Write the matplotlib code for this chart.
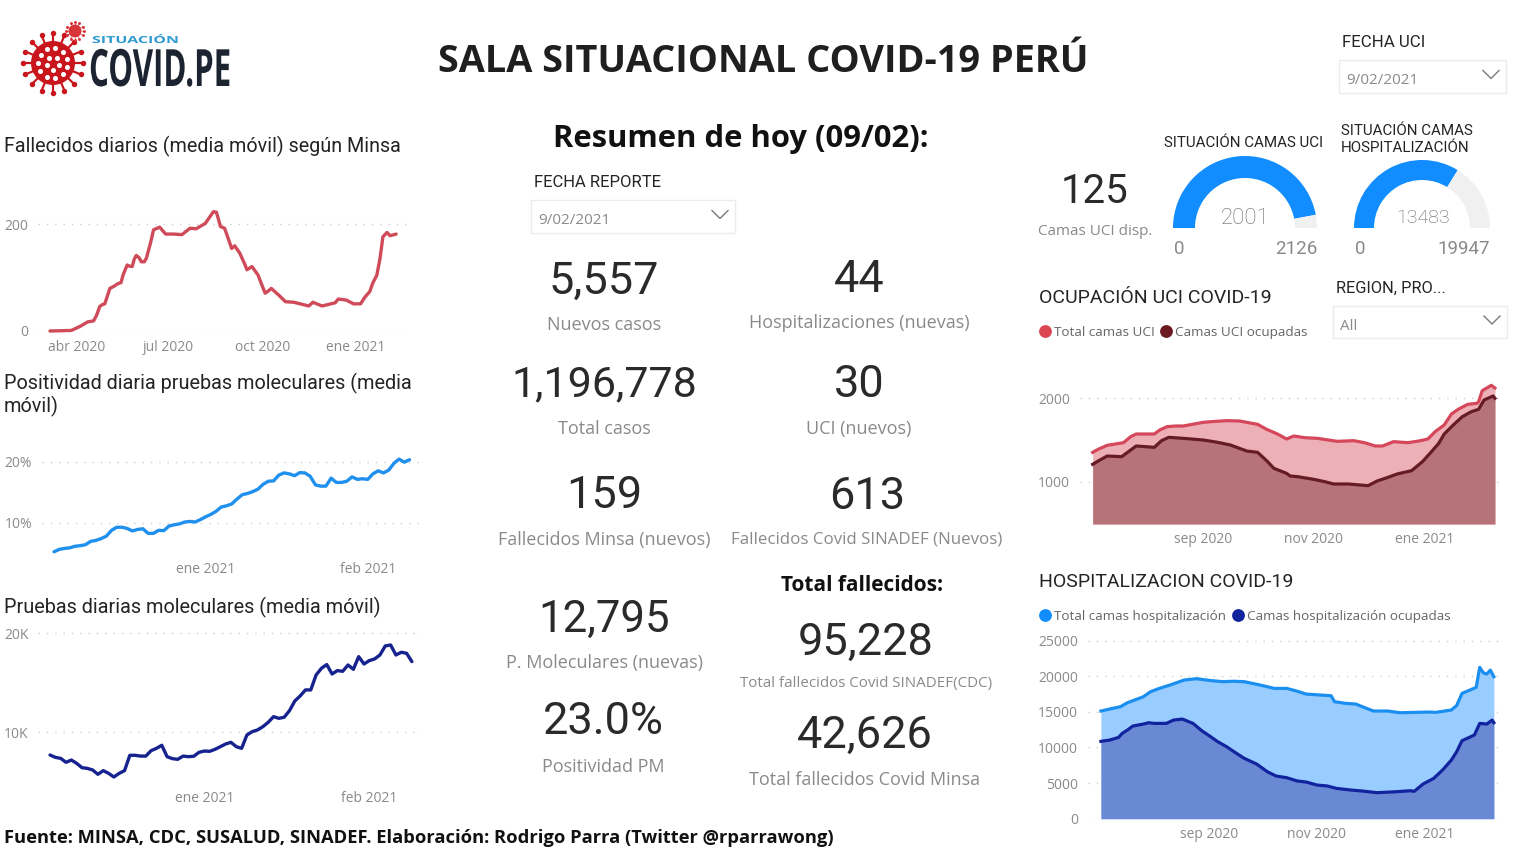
# -*- coding: utf-8 -*-
"""
Sala situacional COVID-19 Peru, 09/02/2021

"""
import numpy as np
import matplotlib.pyplot as plt
import matplotlib.patheffects as pe
from matplotlib.patches import Circle, Rectangle
from matplotlib.transforms import Affine2D

W, H = 1526, 850
GRIS = "#8a8a8a"
OSCURO = "#252423"

# days counted from the first point of each series
fallecidos_dias = [0, 21, 30, 37, 43, 46, 49, 52, 54, 59, 64, 66, 70, 72, 76, 78, 81, 83, 85, 88,
                   90, 93, 95, 99, 102, 108, 114, 122, 130, 138, 144, 153, 161, 164, 168, 172, 179,
                   182, 187, 192, 194, 199, 205, 209, 212, 215, 218, 225, 232, 240, 255, 259, 268,
                   281, 284, 292, 299, 306, 310, 315, 318, 322, 325, 328, 332, 335, 341]
fallecidos = [0, 1, 9, 17, 19, 30, 46, 50, 51, 80, 85, 88, 91, 105, 124, 122, 121, 135, 142, 137,
              130, 130, 137, 165, 190, 195, 182, 182, 181, 193, 192, 202, 224, 223, 196, 193, 155,
              160, 146, 125, 115, 121, 105, 85, 71, 75, 80, 68, 55, 54, 47, 54, 47,
              53, 60, 58, 51, 51, 63, 74, 90, 105, 135, 177, 185, 179, 182]
fallecidos_ticks = [26, 117, 209, 301]
fallecidos_labels = ["abr 2020", "jul 2020", "oct 2020", "ene 2021"]

positividad = [5.3, 5.7, 5.85, 5.95, 6.2, 6.3, 6.45, 7.0, 7.15, 7.45, 7.85, 8.8, 9.3, 9.3, 9.1,
               8.7, 8.95, 9.05, 8.3, 8.3, 8.8, 8.75, 9.5, 9.7, 9.85, 10.15, 10.25, 10.15, 10.55,
               11.0, 11.4, 11.9, 12.6, 12.8, 13.1, 13.9, 14.6, 14.8, 15.1, 15.5, 16.3, 16.8,
               16.85, 17.8, 18.15, 18.0, 17.7, 18.2, 18.15, 17.6, 16.2, 16.0, 16.0, 17.3, 16.6,
               16.6, 16.8, 17.5, 17.1, 17.2, 17.1, 18.0, 18.5, 18.15, 18.6, 19.7, 20.4, 19.9, 20.3]
pruebas = [7.71, 7.47, 7.37, 6.97, 7.2, 6.87, 6.43, 6.36, 6.2, 5.76, 6.13, 5.86, 5.49, 5.86, 6.13,
           7.68, 7.68, 7.6, 7.6, 8.15, 8.38, 8.69, 7.54, 7.34, 7.27, 7.6, 7.54, 7.58, 7.98, 8.11,
           8.08, 8.28, 8.55, 8.82, 8.99, 8.55, 8.38, 9.73, 10.07, 10.24, 10.57, 11.01, 11.58, 11.41,
           11.52, 12.19, 13.16, 13.67, 14.28, 14.28, 15.79, 16.46, 16.84, 15.89, 16.23, 16.16, 16.8,
           16.36, 17.64, 16.9, 17.24, 17.41, 17.81, 18.72, 18.82, 17.81, 18.08, 17.98, 17.14]
corto_ticks = [29, 60]
corto_labels = ["ene 2021", "feb 2021"]

uci_total_dias = [0, 3, 8, 17, 21, 24, 34, 37, 41, 46, 50, 56, 61, 68, 74, 81, 85, 91, 96, 102,
                  107, 111, 117, 124, 130, 135, 144, 150, 156, 160, 166, 174, 180, 185, 189, 194,
                  198, 202, 207, 212, 213, 215, 220, 222]
uci_total = [1352, 1388, 1436, 1468, 1540, 1572, 1572, 1620, 1660, 1668, 1668, 1692, 1712, 1724,
             1732, 1728, 1712, 1688, 1628, 1572, 1512, 1548, 1528, 1520, 1500, 1484, 1492, 1468,
             1428, 1428, 1480, 1468, 1488, 1512, 1600, 1680, 1812, 1872, 1928, 1940, 1960, 2092,
             2156, 2124]
uci_ocupadas_dias = [0, 4, 8, 16, 21, 24, 34, 38, 42, 50, 61, 69, 76, 85, 91, 96, 100, 107, 109,
                     113, 122, 128, 133, 141, 152, 157, 163, 168, 176, 182, 187, 191, 194, 199,
                     204, 209, 213, 216, 221, 222]
uci_ocupadas = [1208, 1260, 1308, 1300, 1380, 1428, 1412, 1492, 1532, 1520, 1500, 1472, 1440, 1368,
                1352, 1252, 1160, 1100, 1068, 1060, 1028, 1000, 972, 972, 952, 1008, 1052, 1092,
                1132, 1240, 1360, 1460, 1572, 1680, 1780, 1840, 1868, 1980, 2028, 2000]

hosp_total_dias = [0, 5, 11, 15, 24, 28, 33, 39, 47, 54, 62, 69, 75, 81, 90, 98, 105, 111, 116, 122,
                   130, 132, 138, 144, 149, 154, 162, 169, 186, 189, 198, 201, 204, 212, 214, 216,
                   218, 220, 222]
hosp_total = [15120, 15400, 15730, 16290, 17130, 17830, 18300, 18770, 19470, 19660, 19400, 19240,
              19300, 19240, 18770, 18300, 18300, 17900, 17500, 17400, 17270, 16430, 16200, 16100,
              15600, 15120, 15120, 14880, 14980, 14930, 15260, 15900, 17600, 18440, 21250, 20500,
              20310, 20870, 19940]
hosp_ocupadas_dias = [0, 5, 10, 12, 15, 18, 24, 27, 30, 37, 41, 46, 52, 57, 62, 66, 71, 76, 81, 88,
                      94, 99, 105, 111, 116, 122, 128, 133, 141, 148, 156, 167, 175, 177, 182, 188,
                      193, 198, 201, 204, 211, 214, 218, 221, 222]
hosp_ocupadas = [10860, 11045, 11420, 11980, 12450, 13010, 13290, 13480, 13385, 13385, 13850, 13990,
                 13385, 12355, 11510, 10810, 10110, 9270, 8470, 7675, 6600, 5990, 5755, 5290, 5150,
                 4730, 4590, 4260, 4030, 3880, 3650, 3790, 3930, 3840, 4870, 5660, 6830, 8240, 9410,
                 10950, 11750, 13385, 13290, 13850, 13480]
largo_ticks = [61, 122, 183]
largo_labels = ["sep 2020", "nov 2020", "ene 2021"]

gauge_uci = [2001, 125]  # ocupadas, libres
gauge_hosp = [13483, 6464]


class Stretch(pe.AbstractPathEffect):  # the logo lettering is condensed or spaced out
    def __init__(self, sx):
        super().__init__()
        self.sx = sx

    def draw_path(self, renderer, gc, tpath, affine, rgbFace=None):
        renderer.draw_path(gc, tpath, Affine2D().scale(self.sx, 1) + affine, rgbFace)


def px_axes(left, top, right, bottom):  # axes from pixel edges
    ax = fig.add_axes([left/W, 1-bottom/H, (right-left)/W, (bottom-top)/H])
    ax.patch.set_alpha(0)
    for spine in ax.spines.values():
        spine.set_visible(False)
    return ax


def style_axis(ax, xlim, ylim, xticks, xlabels, yticks, ylabels, xpad):
    ax.set_xlim(xlim)
    ax.set_ylim(ylim)
    ax.set_xticks(xticks, xlabels)
    ax.set_yticks(yticks, ylabels)
    ax.tick_params(length=0, labelsize=10, labelcolor=GRIS, pad=7)
    ax.tick_params(axis="x", pad=xpad)
    for label in ax.get_xticklabels() + ax.get_yticklabels():
        label.set_fontfamily("Open Sans")
    ax.grid(axis="y", linestyle=(0, (1, 5)), color="#cfcfcf", linewidth=1)
    ax.set_axisbelow(True)


def line_chart(pos, x, y, color, xlim, ylim, xticks, xlabels, yticks, ylabels, xpad):
    ax = px_axes(*pos)
    ax.plot(x, y, color=color, linewidth=2.4, solid_capstyle="round", clip_on=False)
    style_axis(ax, xlim, ylim, xticks, xlabels, yticks, ylabels, xpad)
    return ax


def area_chart(pos, x1, y1, x2, y2, col1, col2, fill1, fill2, xlim, ylim, yticks, ylabels, xpad):
    ax = px_axes(*pos)
    ax.fill_between(x1, y1, ylim[0], color=fill1, linewidth=0)
    ax.fill_between(x2, y2, ylim[0], color=fill2, linewidth=0)
    ax.plot(x1, y1, color=col1, linewidth=2.3)
    ax.plot(x2, y2, color=col2, linewidth=2.3)
    style_axis(ax, xlim, ylim, largo_ticks, largo_labels, yticks, ylabels, xpad)
    return ax


def gauge(cx, cy, r, width, values):
    ax = px_axes(cx-r, cy-r, cx+r, cy+r)
    ax.pie(values + [sum(values)], startangle=180, counterclock=False, radius=1,
           colors=["#118dff", "#f0f0f0", "none"], wedgeprops={"width": width/r, "linewidth": 0})
    ax.set_xlim(-1, 1)
    ax.set_ylim(-1, 1)


def put(x, y, s, size, color=OSCURO, ha="left", family="Roboto", weight="normal", sx=None):
    t = back.text(x, y, s, fontsize=size, color=color, ha=ha, va="center_baseline",
                  family=family, weight=weight)
    if sx is not None:
        t.set_path_effects([Stretch(sx)])


def kpi(x, y_num, y_lab, value, label, lab_size=13, num_size=32.5):
    put(x, y_num-2, value, num_size, ha="center", color="#2b2a29")
    put(x, y_lab, label, lab_size, color=GRIS, ha="center", family="Open Sans")


def slicer(left, top, right, bottom, s):  # dropdown box
    back.add_patch(Rectangle((left, top), right-left, bottom-top, fc="white", ec="#ececec", lw=1))
    put(left+7, (top+bottom)/2+2, s, 11, color=GRIS, family="Open Sans")
    cx, cy = right-15, (top+bottom)/2-2
    back.plot([cx-8, cx, cx+8], [cy-4, cy+4, cy-4], color="#7a7a7a", lw=1)


def virus(cx, cy, r, color, spikes, spots=True):  # logo
    ang = np.linspace(0, 2*np.pi, spikes, endpoint=False)
    for a in ang:
        back.plot([cx+r*np.cos(a), cx+1.32*r*np.cos(a)], [cy+r*np.sin(a), cy+1.32*r*np.sin(a)],
                  color=color, lw=r/14)
    back.scatter(cx+1.36*r*np.cos(ang), cy+1.36*r*np.sin(ang), s=r*0.7, color=color, lw=0)
    back.add_patch(Circle((cx, cy), r, fc=color, ec="none"))
    if spots:
        for rr, n in [(0.68, 11), (0.3, 5)]:
            a2 = np.linspace(0.3, 2*np.pi+0.3, n, endpoint=False)
            back.scatter(cx+rr*r*np.cos(a2), cy+rr*r*np.sin(a2), s=r*0.6, color="white", lw=0)


def legend_dot(x, y, color):
    back.scatter([x], [y], s=85, color=color, lw=0)


fig = plt.figure(figsize=(W/100, H/100), dpi=100)
back = fig.add_axes([0, 0, 1, 1])
back.set_xlim(0, W)
back.set_ylim(H, 0)
back.axis("off")

# header
virus(53, 63, 22, "#c8161c", 16)
virus(75, 31, 6.5, "#d8353a", 12, spots=False)
put(92, 39, "SITUACIÓN", 7, color="#2e9bd0", weight="bold", family="Open Sans", sx=1.64)
put(89, 67, "COVID.PE", 37, color="#1c2431", weight="bold", family="Open Sans", sx=0.607)
put(763, 57.5, "SALA SITUACIONAL COVID-19 PERÚ", 27.3, color="#1f1f1f", ha="center",
    family="Open Sans", weight="bold")
put(741, 135.5, "Resumen de hoy (09/02):", 22.3, color="#111111", ha="center",
    family="Open Sans", weight="bold")

# left column
put(4, 144, "Fallecidos diarios (media móvil) según Minsa", 14.2)
line_chart((38, 200, 407, 331), fallecidos_dias, fallecidos, "#cf4b59", (-11.8, 351.7), (0, 246),
           fallecidos_ticks, fallecidos_labels, [0, 200], ["0", "200"], 6.3)
put(4, 381, "Positividad diaria pruebas moleculares (media", 14.3)
put(4, 404, "móvil)", 14.3)
line_chart((42, 445, 420, 555), np.arange(len(positividad)), positividad, "#1f90ee", (-2.3, 70),
           (4.78, 22.7), corto_ticks, corto_labels, [10, 20], ["10%", "20%"], 5)
put(4, 605, "Pruebas diarias moleculares (media móvil)", 14.3)
line_chart((38, 620, 422, 785), np.arange(len(pruebas)), pruebas, "#16238f", (-2.26, 69.9),
           (4.68, 21.34), corto_ticks, corto_labels, [10, 20], ["10K", "20K"], 4.1)
put(4, 836, "Fuente: MINSA, CDC, SUSALUD, SINADEF. Elaboración: Rodrigo Parra (Twitter @rparrawong)",
    13.2, color="#111111", family="Open Sans", weight="bold")

# centre column
put(534, 181, "FECHA REPORTE", 12)
slicer(531, 200, 735, 233, "9/02/2021")
kpi(604, 279, 323, "5,557", "Nuevos casos")
kpi(859, 277, 321, "44", "Hospitalizaciones (nuevas)")
kpi(604, 382, 427, "1,196,778", "Total casos", num_size=31)
kpi(859, 382, 427, "30", "UCI (nuevos)")
kpi(604, 493, 538, "159", "Fallecidos Minsa (nuevos)")
kpi(867, 494, 538, "613", "Fallecidos Covid SINADEF (Nuevos)", lab_size=12.2)
kpi(604, 617, 661, "12,795", "P. Moleculares (nuevas)", num_size=31.5)
kpi(603, 720, 765, "23.0%", "Positividad PM")
put(862, 583, "Total fallecidos:", 15, color="#111111", ha="center", family="Open Sans", weight="bold")
kpi(866, 640, 681, "95,228", "Total fallecidos Covid SINADEF(CDC)", lab_size=10.9)
kpi(865, 733, 778, "42,626", "Total fallecidos Covid Minsa")

# right column
put(1342, 41, "FECHA UCI", 12.2)
slicer(1339, 60, 1506, 93, "9/02/2021")
kpi(1095, 189, 229, "125", "Camas UCI disp.", lab_size=11, num_size=29)
put(1164, 141, "SITUACIÓN CAMAS UCI", 10.9)
put(1341, 129, "SITUACIÓN CAMAS", 10.9)
put(1341, 146, "HOSPITALIZACIÓN", 10.9)
gauge(1245, 228, 72, 22, gauge_uci)
gauge(1422, 228, 68, 20, gauge_hosp)
put(1245, 216, "2001", 16, color="#666666", ha="center", weight="light")
put(1174, 247, "0", 13.5, color=GRIS)
put(1317, 247, "2126", 13.5, color=GRIS, ha="right")
put(1423, 216, "13483", 14, color="#666666", ha="center", weight="light")
put(1355, 247, "0", 13.5, color=GRIS)
put(1490, 247, "19947", 13.5, color=GRIS, ha="right")

put(1039, 296, "OCUPACIÓN UCI COVID-19", 14)
legend_dot(1045, 331, "#dc4552")
put(1054, 331, "Total camas UCI", 9.7, color="#666666", family="Open Sans")
legend_dot(1166, 331, "#6b1a22")
put(1175, 331, "Camas UCI ocupadas", 9.7, color="#666666", family="Open Sans")
put(1336, 287, "REGION, PRO...", 11.8)
slicer(1333, 306, 1507, 338, "All")
area_chart((1080, 375, 1500, 524), uci_total_dias, uci_total, uci_ocupadas_dias, uci_ocupadas,
           "#d5475a", "#661c25", "#eeb0b7", "#b7737a", (-7, 224.8), (492, 2280),
           [1000, 2000], ["1000", "2000"], 5.5)

put(1039, 580, "HOSPITALIZACION COVID-19", 14)
legend_dot(1045, 615, "#118dff")
put(1054, 615, "Total camas hospitalización", 9.7, color="#666666", family="Open Sans")
legend_dot(1238, 615, "#12239e")
put(1247, 615, "Camas hospitalización ocupadas", 9.7, color="#666666", family="Open Sans")
area_chart((1088, 630, 1502, 818.7), hosp_total_dias, hosp_total, hosp_ocupadas_dias, hosp_ocupadas,
           "#1b8ff0", "#12239e", "#99ccff", "#6a89d5", (-7.3, 226.6), (0, 26500),
           [0, 5000, 10000, 15000, 20000, 25000],
           ["0", "5000", "10000", "15000", "20000", "25000"], 6)

plt.savefig("out.png", dpi=100)
